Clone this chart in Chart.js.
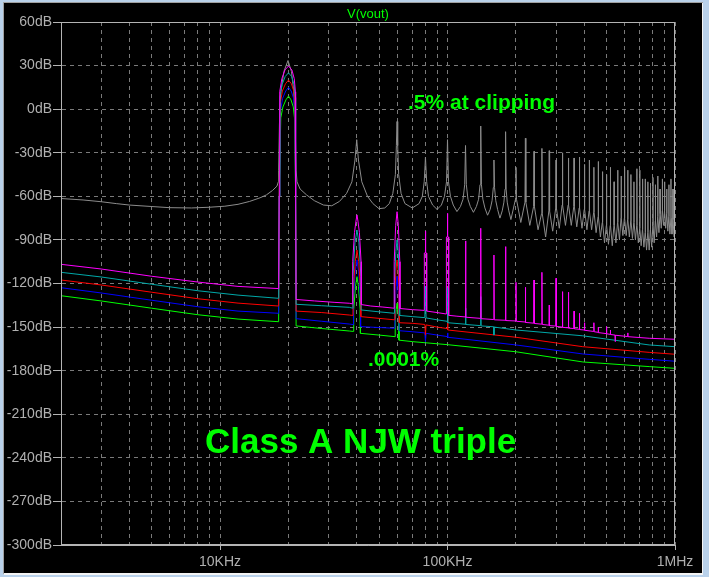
<!DOCTYPE html>
<html>
<head>
<meta charset="utf-8">
<script src="https://cdn.jsdelivr.net/npm/chart.js@4.4.1/dist/chart.umd.min.js"></script>
<style>
  html, body { margin: 0; padding: 0; background: #b9d1ea; }
  canvas { display: block; }
</style>
</head>
<body>
<canvas id="fftChart" width="709" height="577"></canvas>
<script>
// frequencies in kHz, levels in dB
const freqGridKHz = [3, 4, 5, 6, 7, 8, 9, 10, 20, 30, 40, 50, 60, 70, 80, 90, 100, 200, 300, 400, 500, 600, 700, 800, 900, 1000];
const freqLabels = { 10: '10KHz', 100: '100KHz', 1000: '1MHz' };
const dbTicks = [60, 30, 0, -30, -60, -90, -120, -150, -180, -210, -240, -270, -300];

// .5% at clipping
const greyTrace = [
    [2, -61.5], [2.5, -62.5], [3, -63.7], [3.5, -65], [4, -66], [5, -67], [6, -67.8], [7.5, -68], [9, -67.5],
    [10.5, -66.8], [12, -65.5], [13.5, -63.5], [15, -61], [16, -59], [17, -56], [17.8, -53], [18.05, -50],
    [18.1, -42], [18.25, -10], [18.5, 12], [19.1, 26], [19.9, 33.5], [20.6, 26], [21.1, 12], [21.4, -10],
    [21.6, -42], [21.8, -50], [22.5, -55], [24, -59], [26, -63], [28.5, -66], [31, -66.5], [33.5, -63.5],
    [36, -58], [38, -50], [39.2, -35], [39.9, -21], [40.6, -35], [42, -50], [44.5, -60], [47, -65], [50, -68.5],
    [53, -68], [55.5, -65], [57.5, -58], [59, -45], [59.6, -25], [60, -8.5], [60.4, -25], [61, -45], [62.5, -58],
    [65, -65], [70, -68], [75, -65], [77.5, -60], [79, -50], [80, -33], [81, -50], [82.5, -60], [86, -66],
    [90, -69], [94, -66], [97, -60], [99, -50], [100, -21], [101, -50], [103, -60], [106, -66], [110, -70.5],
    [114, -67], [117, -62], [119, -52], [120, -25], [121, -52], [123, -62], [126, -67], [130, -71], [134, -67],
    [137, -62], [139, -52], [140, -11.6], [141, -52], [143, -62], [146, -68], [150, -73], [154, -69], [157, -63],
    [159, -54], [160, -35], [161, -54], [163, -63], [166, -69], [170, -75], [174, -70], [177, -64], [179, -55],
    [180, -15.5], [181, -55], [183, -64], [186, -70], [190, -76],
    [199, -62], [200, -40], [201, -62], [210, -78], [219, -64], [220, -20], [221, -64], [230, -80],
    [239, -67], [240, -29], [241, -67], [250, -83], [259, -72], [260, -27], [261, -72], [270, -88],
    [279, -70], [280, -28.6], [281, -70], [290, -84], [299, -68], [300, -35], [301, -68], [310, -82],
    [319, -66], [320, -30], [321, -66], [330, -80], [339, -66], [340, -33.6], [341, -66], [350, -80],
    [359, -67], [360, -33.6], [361, -67], [370, -81], [379, -68], [380, -33], [381, -68], [390, -82],
    [399, -69], [400, -38], [401, -69], [410, -83], [419, -70], [420, -35], [421, -70], [430, -83],
    [439, -71], [440, -40], [441, -71], [450, -85], [459, -74], [460, -36], [461, -74], [470, -88],
    [479, -78], [480, -43], [481, -78], [490, -92], [499, -80], [500, -45], [501, -80], [510, -93],
    [519, -80], [520, -40], [521, -80], [530, -94], [539, -80], [540, -50], [541, -80], [550, -92],
    [559, -78], [560, -42], [561, -78], [570, -90], [579, -75], [580, -46], [581, -75], [590, -87],
    [599, -75], [600, -40], [601, -75], [610, -87], [619, -76], [620, -42], [621, -76], [630, -88],
    [639, -77], [640, -45], [641, -77], [650, -89], [659, -78], [660, -50], [661, -78], [670, -90],
    [679, -80], [680, -41], [681, -80], [690, -92], [699, -82], [700, -42], [701, -82], [710, -94],
    [719, -83], [720, -48], [721, -83], [730, -95], [739, -85], [740, -48], [741, -85], [750, -97],
    [759, -85], [760, -50], [761, -85], [770, -97], [779, -83], [780, -51], [781, -83], [790, -95],
    [799, -80], [800, -47], [801, -80], [810, -92], [819, -77], [820, -52], [821, -77], [830, -88],
    [839, -74], [840, -46], [841, -74], [850, -85], [859, -72], [860, -55], [861, -72], [870, -82],
    [879, -70], [880, -48], [881, -70], [890, -80], [899, -70], [900, -50], [901, -70], [910, -82],
    [919, -72], [920, -55], [921, -72], [930, -84], [939, -74], [940, -52], [941, -74], [950, -86],
    [959, -75], [960, -48], [961, -75], [970, -86], [979, -76], [980, -55], [981, -76], [990, -88],
    [999, -78], [1000, -50]
];

const magentaTrace = [
    [2, -106.8], [3, -110], [5, -115], [8, -119], [12, -122], [18.1, -123.5],
    [18.2, -60], [18.3, 12], [18.7, 21], [19.3, 27], [20, 29.7], [20.7, 27], [21.2, 21], [21.45, 12], [21.5, -60],
    [21.6, -131], [26, -132], [32, -133], [37, -133.6], [38.2, -134],
    [38.3, -105], [39.0, -85], [39.6, -77], [40, -72.8], [40.4, -77], [41.0, -85], [41.7, -105], [41.8, -134.5],
    [46, -135.5], [52, -136.2], [58.2, -137],
    [58.3, -105], [59.2, -80], [60, -70.6], [60.8, -80], [61.7, -105], [61.8, -137.2],
    [70, -138], [79, -138.5], [79.1, -99], [79.8, -99], [80, -84], [80.2, -99], [80.9, -99], [81, -139],
    [90, -140], [98.8, -141], [98.9, -88], [99.8, -88], [100, -71.7], [100.2, -88], [101.1, -88], [101.2, -141.9],
    [110, -142.5], [119.5, -143], [120, -90.7], [120.5, -143.2], [139.5, -144], [140, -82], [140.5, -144.2],
    [159.5, -144.8], [160, -100.4], [160.5, -145], [179.5, -145.3], [180, -94.6], [180.5, -145.5], [199.4, -145.8],
    [200, -119.2], [200.6, -146], [219.4, -146.5], [220, -122.6], [220.6, -146.8], [239.3, -147.3], [240, -117.6],
    [240.7, -147.5], [259.2, -148], [260, -112.3], [260.8, -148.2], [279.2, -148.7], [280, -134.8], [280.8, -149],
    [299.1, -149.3], [300, -116.4], [300.9, -149.5], [319, -150], [320, -125.6], [321, -150.2], [339, -150.5],
    [340, -126], [341, -150.7], [359, -151], [360, -139], [361, -151.2], [379, -151.5], [380, -140.5],
    [381, -151.7], [399, -152], [400, -147], [401, -152.2], [439, -153], [440, -147], [441, -153.2], [459, -153.6],
    [460, -150], [461, -153.8], [499, -154.5], [500, -149.7], [501, -154.6], [519, -155], [520, -152], [521, -155.1],
    [545, -155.5], [546, -160], [547, -155.6], [619, -156.5], [620, -154], [621, -156.6], [770, -157.7], [1000, -158.4]
];

const cyanTrace = [
    [2, -112.3], [3, -115.5], [5, -120.5], [8, -125], [12, -128], [18.1, -130.2],
    [18.2, -60], [18.35, 8], [18.75, 17], [19.35, 22.5], [20, 25], [20.65, 22.5], [21.15, 17], [21.4, 8], [21.5, -60],
    [21.6, -134.3], [28, -135.3], [37, -136.4], [38.3, -137],
    [38.4, -115], [39.2, -92], [40, -83.2], [40.8, -92], [41.6, -115], [41.7, -138.2],
    [50, -139.5], [58.4, -140.5],
    [58.5, -118], [59.3, -98], [60, -90], [60.7, -98], [61.5, -118], [61.6, -142],
    [70, -142.8], [79.5, -143.5], [80, -122], [80.5, -143.7], [90, -145], [99.5, -146], [100, -123], [100.5, -147],
    [119.5, -148], [120, -137], [120.5, -148.2], [139.5, -149], [140, -129], [140.5, -149.2], [159.5, -149.8],
    [160, -155.5], [160.5, -150], [200, -152], [393, -156], [770, -162.3], [1000, -163.5]
];

const redTrace = [
    [2, -117.6], [3, -121], [5, -126], [8, -130.5], [12, -133.5], [18.1, -135.5],
    [18.2, -60], [18.4, 4], [18.8, 12.5], [19.4, 17.5], [20, 20], [20.6, 17.5], [21.1, 12.5], [21.35, 4], [21.5, -60],
    [21.6, -139], [28, -140], [37, -141.7], [38.4, -142],
    [38.5, -125], [39.3, -105], [40, -97], [40.7, -105], [41.5, -125], [41.6, -142.8],
    [50, -144], [58.6, -145],
    [58.7, -125], [59.4, -110], [60, -103.8], [60.6, -110], [61.3, -125], [61.4, -147],
    [70, -147.4], [79.5, -148.2], [80, -155.5], [80.5, -148.5], [90, -150], [99.5, -151], [100, -136.8],
    [100.5, -152], [200, -157], [393, -163.5], [770, -167.4], [1000, -168.7]
];

const blueTrace = [
    [2, -122.9], [3, -126.5], [5, -131.5], [8, -136], [12, -139], [18.1, -140.5],
    [18.2, -60], [18.45, -1], [18.85, 7.5], [19.45, 12.5], [20, 15], [20.55, 12.5], [21.05, 7.5], [21.3, -1], [21.5, -60],
    [21.6, -144.2], [28, -146], [37, -147.9], [38.5, -148.3],
    [38.6, -130], [39.3, -112], [40, -103.8], [40.7, -112], [41.4, -130], [41.5, -149.7],
    [50, -150.3], [58.7, -150.8],
    [58.8, -135], [59.5, -122], [60, -115], [60.5, -122], [61.2, -135], [61.3, -152.5],
    [70, -153.2], [79.5, -154], [80, -160], [80.5, -154.3], [90, -155.5], [99.5, -156.5], [100, -154],
    [100.5, -157], [200, -162.3], [393, -168.5], [770, -172.2], [1000, -173.5]
];

const greenTrace = [
    [2, -128.4], [3, -132], [5, -137], [8, -141.5], [12, -144.5], [18.1, -146.3],
    [18.2, -60], [18.5, -6], [18.9, 1.5], [19.5, 6.5], [20, 9], [20.5, 6.5], [21.0, 1.5], [21.25, -6], [21.5, -60],
    [21.6, -149.2], [28, -151], [37, -152.7], [38.6, -153],
    [38.7, -138], [39.4, -122], [40, -115.3], [40.6, -122], [41.3, -138], [41.4, -154.3],
    [50, -155.5], [58.8, -156.6],
    [58.9, -145], [59.5, -138], [60, -133.6], [60.5, -138], [61.1, -145], [61.2, -159],
    [70, -160], [80, -160.8], [100, -162.1], [200, -167], [393, -174], [770, -177.2], [1000, -178.4]
];

const tickFont = { family: 'Liberation Sans', size: 14 };

// window frame + black plot background, then the solid plot box and text
const ltspiceLook = {
    id: 'ltspiceLook',
    beforeDraw(chart) {
        const c = chart.ctx;
        c.save();
        c.fillStyle = '#b9d1ea';
        c.fillRect(0, 0, 709, 577);
        c.fillStyle = '#a0a0a0';
        c.fillRect(3, 2, 700, 572);
        c.fillStyle = '#f4f4f4';
        c.fillRect(4, 3, 699, 572);
        c.fillStyle = '#000';
        c.fillRect(4, 3, 698, 570);
        c.restore();
    },
    afterDraw(chart) {
        const c = chart.ctx;
        const a = chart.chartArea;
        c.save();
        c.strokeStyle = '#b4b4b4';
        c.lineWidth = 1;
        c.strokeRect(Math.round(a.left) + 0.5, Math.round(a.top) + 0.5,
            Math.round(a.right - a.left) - 1, Math.round(a.bottom - a.top) - 1);

        c.fillStyle = '#00ff00';
        c.textAlign = 'center';
        c.textBaseline = 'alphabetic';
        c.font = '13px "Liberation Sans"';
        c.fillText('V(vout)', (a.left + a.right) / 2, 18);

        c.textAlign = 'left';
        c.font = 'bold 21px "Liberation Sans"';
        c.fillText('.5% at clipping', 408, 109);
        c.fillText('.0001%', 368, 366);
        c.font = 'bold 35px "Liberation Sans"';
        c.fillText('Class A NJW triple', 205, 453);
        c.restore();
    }
};

function trace(data, color, order) {
    return {
        data: data,
        borderColor: color,
        borderWidth: 1,
        pointRadius: 0,
        tension: 0,
        order: order
    };
}

const ctx = document.getElementById('fftChart').getContext('2d');
new Chart(ctx, {
    type: 'line',
    data: {
        datasets: [
            trace(greyTrace, '#8c8c8c', 6),
            trace(greenTrace, '#00ff00', 5),
            trace(blueTrace, '#0000ff', 4),
            trace(redTrace, '#ff0000', 3),
            trace(cyanTrace, '#00a8a8', 2),
            trace(magentaTrace, '#ff00ff', 1)
        ]
    },
    options: {
        responsive: false,
        animation: false,
        layout: { padding: { top: 22, right: 34, left: 0, bottom: 0 } },
        plugins: {
            legend: { display: false },
            tooltip: { enabled: false },
            title: { display: false }
        },
        scales: {
            x: {
                type: 'logarithmic',
                min: 2,
                max: 1000,
                afterBuildTicks: scale => {
                    scale.ticks = freqGridKHz.map(v => ({ value: v }));
                },
                afterFit: scale => { scale.height = 32; },
                ticks: {
                    autoSkip: false,
                    maxRotation: 0,
                    padding: 4,
                    color: '#b0b0b0',
                    font: tickFont,
                    callback: v => freqLabels[v] || ''
                },
                grid: {
                    color: '#7a7a7a',
                    tickLength: 5,
                    tickColor: ctx => freqLabels[ctx.tick && ctx.tick.value] ? '#b4b4b4' : 'rgba(0,0,0,0)'
                },
                border: { color: '#b4b4b4', dash: [4, 4] }
            },
            y: {
                min: -300,
                max: 60,
                afterBuildTicks: scale => {
                    scale.ticks = dbTicks.map(v => ({ value: v }));
                },
                afterFit: scale => { scale.width = 61; },
                ticks: {
                    padding: 1,
                    color: '#b0b0b0',
                    font: tickFont,
                    callback: v => v + 'dB'
                },
                grid: {
                    color: '#7a7a7a',
                    tickLength: 8,
                    tickColor: '#b4b4b4'
                },
                border: { color: '#b4b4b4', dash: [4, 4] }
            }
        }
    },
    plugins: [ltspiceLook]
});
</script>
</body>
</html>
